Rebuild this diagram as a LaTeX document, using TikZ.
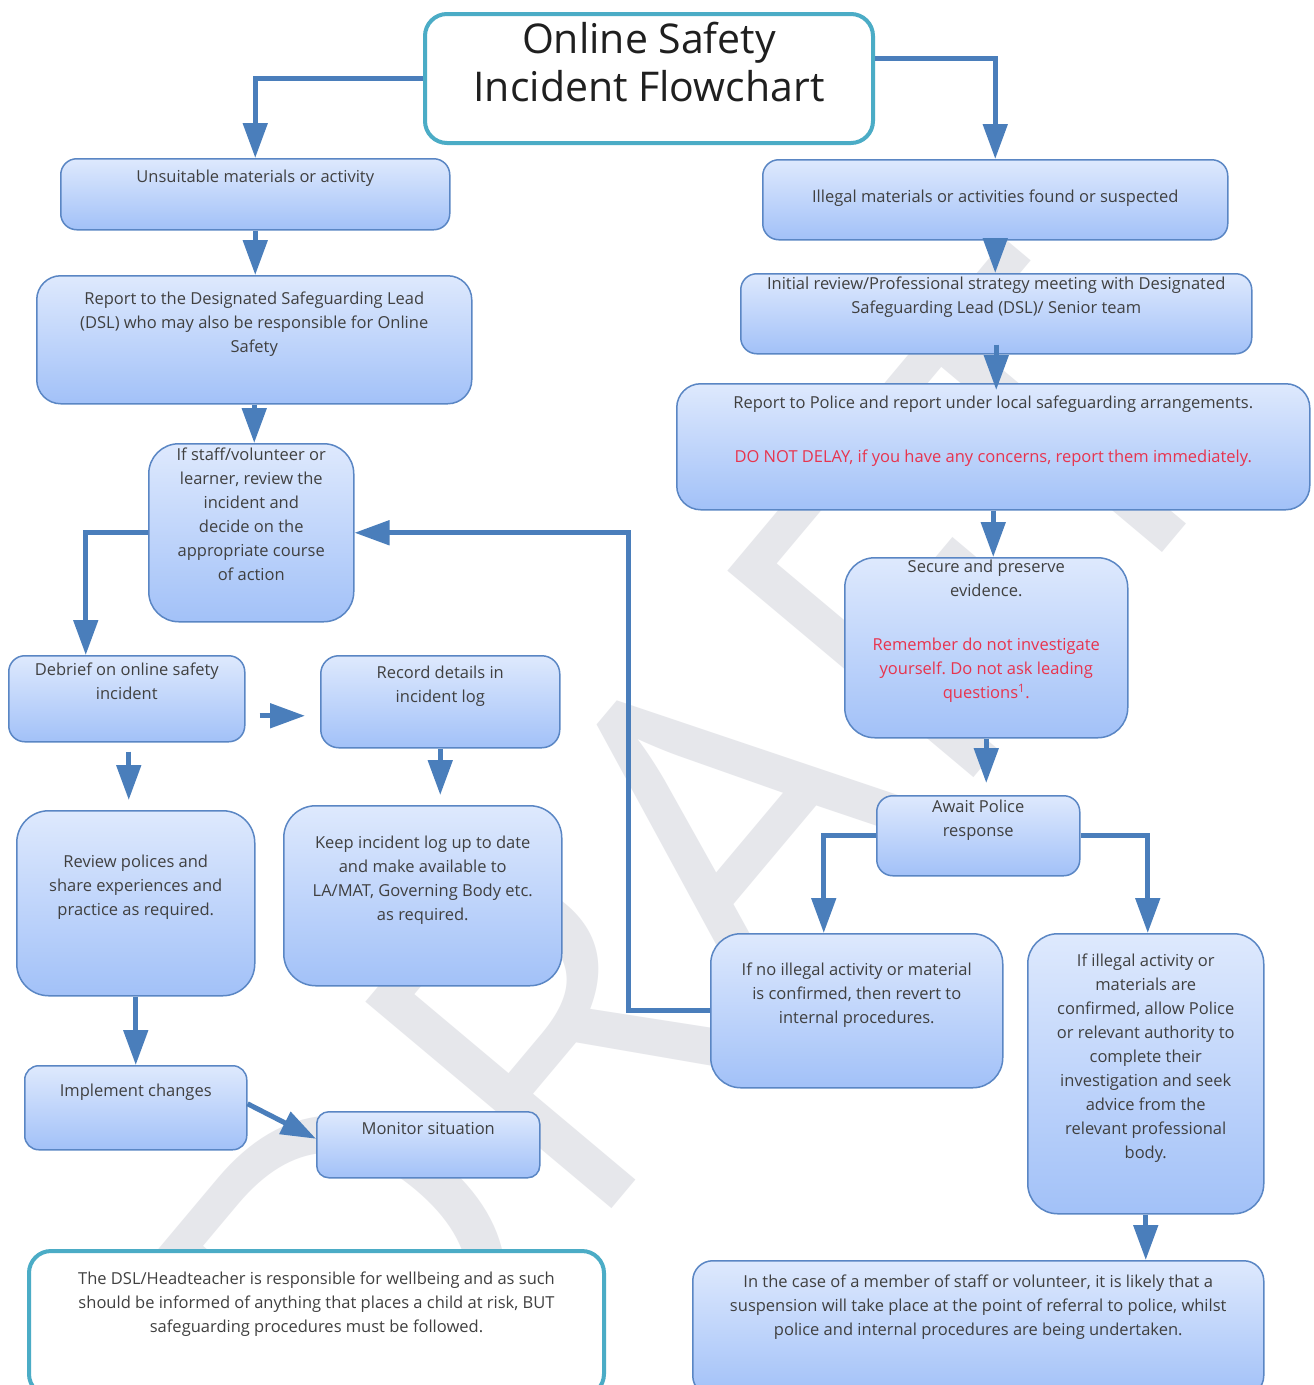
\documentclass[tikz,border=0pt]{standalone}
\usepackage{fontspec}
\setmainfont{Open Sans}
\usetikzlibrary{arrows.meta}
\frenchspacing

\definecolor{boxline}{HTML}{5A86C4}
\definecolor{boxtop}{HTML}{DEE9FD}
\definecolor{boxbot}{HTML}{A2C1F8}
\definecolor{flowblue}{HTML}{4A7EBB}
\definecolor{noteteal}{HTML}{4BACC6}
\definecolor{textgray}{HTML}{404040}
\definecolor{alertred}{HTML}{E8344E}
\definecolor{wmgray}{HTML}{E6E7EB}

% width, height, top gap, text
\newcommand{\boxtext}[4]{\parbox[c][#2][t]{#1}{\centering\vspace*{#3}\strut#4}}

\begin{document}
\begin{tikzpicture}[x=1pt,y=-1pt]
  \tikzset{box/.style = {draw=boxline, line width=1.5pt, rounded corners=16pt, top color=boxtop, bottom color=boxbot, inner sep=0pt, anchor=north west, text=textgray, font=\fontsize{16.5}{24}\selectfont}}
  \tikzset{note/.style = {draw=noteteal, line width=4pt, rounded corners=22pt, fill=white, inner sep=0pt, anchor=north west, text=textgray, font=\fontsize{16.5}{24}\selectfont}}
  \tikzset{flow/.style = {draw=flowblue, line width=5pt, -{Triangle[width=24pt,length=35pt]}}}
  \tikzset{watermark/.style = {text=wmgray, rotate=50, inner sep=0pt, font=\fontsize{450}{450}\selectfont}}

  \path[use as bounding box] (0,0) rectangle (1314,1385);
  \fill[white] (0,0) rectangle (1314,1385);
  \clip (0,0) rectangle (1314,1385);

  \node[watermark] (draft) at (690,865) {DRAFT};

  \node[note, text=black!88, font=\fontsize{41}{48}\selectfont] (title) at (423,12) {\boxtext{448pt}{129pt}{6pt}{Online Safety\\Incident Flowchart}};

	% left branch
	\node[box] (A) at (60,158) {\boxtext{389pt}{71pt}{7pt}{Unsuitable materials or activity}};
	
	\node[box, rounded corners=24pt] (B) at (36,275) {\boxtext{435pt}{128pt}{12pt}{Report to the Designated Safeguarding Lead\\(DSL) who may also be responsible for Online\\Safety}};
	
	\node[box, rounded corners=30pt] (C) at (148,443) {\boxtext{205pt}{178pt}{0pt}{If staff/volunteer or\\learner, review the\\incident and\\decide on the\\appropriate course\\of action}};
	
		\node[box] (D) at (8,655) {\boxtext{236pt}{86pt}{3pt}{Debrief on online safety\\incident}};
		
		\node[box, rounded corners=18pt] (E) at (320,655) {\boxtext{239pt}{92pt}{6pt}{Record details in\\incident log}};
		
		\node[box, rounded corners=32pt] (F) at (16,810) {\boxtext{238pt}{185pt}{40pt}{Review polices and\\share experiences and\\practice as required.}};
		
		\node[box, rounded corners=32pt] (G) at (283,805) {\boxtext{278pt}{180pt}{26pt}{Keep incident log up to date\\and make available to\\LA/MAT, Governing Body etc.\\as required.}};
		
			\node[box, rounded corners=14pt] (H) at (24,1065) {\boxtext{222pt}{84pt}{14pt}{Implement changes}};
			
			\node[box, rounded corners=12pt] (I) at (316,1111) {\boxtext{223pt}{66pt}{6pt}{Monitor situation}};
	
	\node[note] (J) at (27,1249) {\boxtext{575pt}{145pt}{17pt}{The DSL/Headteacher is responsible for wellbeing and as such\\should be informed of anything that places a child at risk, BUT\\safeguarding procedures must be followed.}};

	% right branch
	\node[box] (K) at (762,159) {\boxtext{465pt}{80pt}{26pt}{Illegal materials or activities found or suspected}};
	
	\node[box] (L) at (740,273) {\boxtext{511pt}{80pt}{-1pt}{Initial review/Professional strategy meeting with Designated\\Safeguarding Lead (DSL)/ Senior team}};
	
	\node[box, rounded corners=24pt] (M) at (676,383) {\boxtext{633pt}{126pt}{8pt}{Report to Police and report under local safeguarding arrangements.\\[30pt]{\color{alertred}DO NOT DELAY, if you have any concerns, report them immediately.}}};
	
		\node[box, rounded corners=30pt] (N) at (844,557) {\boxtext{283pt}{180pt}{-2pt}{Secure and preserve\\evidence.\\[30pt]{\color{alertred}Remember do not investigate\\yourself. Do not ask leading\\questions\textsuperscript{1}.}}};
		
		\node[box] (O) at (876,795) {\boxtext{203pt}{80pt}{0pt}{Await Police\\response}};
		
			\node[box, rounded corners=30pt] (P) at (710,933) {\boxtext{292pt}{154pt}{25pt}{If no illegal activity or material\\is confirmed, then revert to\\internal procedures.}};
			
			\node[box, rounded corners=30pt] (Q) at (1027,933) {\boxtext{236pt}{280pt}{16pt}{If illegal activity or\\materials are\\confirmed, allow Police\\or relevant authority to\\complete their\\investigation and seek\\advice from the\\relevant professional\\body.}};
			
				\node[box, rounded corners=20pt] (R) at (692,1260) {\boxtext{571pt}{135pt}{10pt}{In the case of a member of staff or volunteer, it is likely that a\\suspension will take place at the point of referral to police, whilst\\police and internal procedures are being undertaken.}};

    % connectors
    \draw[flow] (title.west) -| (A.north);
    \draw[flow] ([yshift=20.5pt]title.east) -| (K.north);
    \foreach \from/\to in {A/B,K/L,B/C,M/N,F/H,Q/R}
    \draw[flow] (\from.south) -- (\from.south |- \to.north);
    \draw[flow, shorten <=-10pt, shorten >=-7pt] (L.south) -- (L.south |- M.north);
    \draw[flow] (C.west) -| ([xshift=-41pt]D.north);
    \draw[flow, shorten <=14pt, shorten >=15pt] ([yshift=-17pt]D.east) -- ([yshift=-17pt]D.east -| E.west);
    \draw[flow, shorten <=9pt, shorten >=10pt] ([xshift=2pt]D.south) -- ([xshift=2pt]D.south |- F.north);
    \draw[flow, shorten >=10pt] (E.south) -- (E.south |- G.north);
    \draw[flow] ([yshift=4pt]H.east) -- ([yshift=6pt]I.west);
    \draw[flow, shorten >=12pt] (N.south) -- (N.south |- O.north);
    \draw[flow] (O.west) -| ([xshift=-33pt]P.north);
    \draw[flow] (O.east) -| ([xshift=2pt]Q.north);
    \draw[flow] (P.west) -- ++(-82,0) |- (C.east);
    
\end{tikzpicture}
\end{document}
